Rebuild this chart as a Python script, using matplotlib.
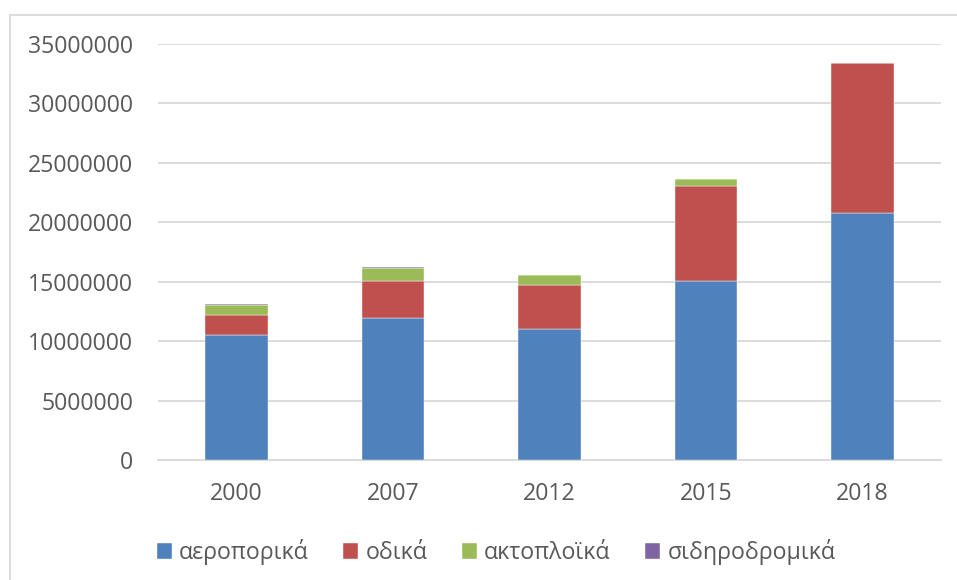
import matplotlib
matplotlib.use("Agg")
import matplotlib.pyplot as plt
from matplotlib.lines import Line2D
import numpy as np

plt.rcParams['font.family'] = ['Open Sans', 'DejaVu Sans']

years = ['2000', '2007', '2012', '2015', '2018']
aeroporika = [10500000, 11980000, 11050000, 15100000, 20750000]
odika = [1700000, 3060000, 3710000, 7950000, 12620000]
aktoploika = [850000, 1090000, 840000, 620000, 0]
sidirodromika = [90000, 120000, 0, 0, 0]

series = [
    ('αεροπορικά', aeroporika, '#4F81BD'),
    ('οδικά', odika, '#C0504D'),
    ('ακτοπλοϊκά', aktoploika, '#9BBB59'),
    ('σιδηροδρομικά', sidirodromika, '#8064A2'),
]

fig = plt.figure(figsize=(9.57, 5.80), dpi=100)
ax = fig.add_axes([158 / 957, 1 - 460 / 580, 783 / 957, 416 / 580])

x = np.arange(len(years))
bottom = np.zeros(len(years))
for name, vals, col in series:
    ax.bar(x, vals, width=0.4, bottom=bottom, color=col, label=name,
           edgecolor='white', linewidth=0.3, zorder=3)
    bottom += np.array(vals)

ax.set_xlim(-0.5, len(years) - 0.5)
ax.set_ylim(0, 35000000)
ax.set_yticks(range(0, 35000001, 5000000))
ax.set_yticklabels([str(v) for v in range(0, 35000001, 5000000)])
ax.set_xticks(x)
ax.set_xticklabels(years)
ax.yaxis.grid(True, color='#d9d9d9', linewidth=1.3, zorder=0)
for s in ['top', 'right', 'left']:
    ax.spines[s].set_visible(False)
ax.spines['bottom'].set_color('#d9d9d9')
ax.spines['bottom'].set_linewidth(1.3)
ax.tick_params(axis='both', length=0, labelsize=16.7, labelcolor='#595959')
ax.tick_params(axis='y', pad=18)
ax.tick_params(axis='x', pad=16)

# chart border
fig.add_artist(Line2D([10 / 957, 10 / 957], [0, 1 - 15 / 580], color='#d9d9d9',
                      linewidth=1.3, transform=fig.transFigure))
fig.add_artist(Line2D([10 / 957, 1], [1 - 15 / 580, 1 - 15 / 580], color='#d9d9d9',
                      linewidth=1.3, transform=fig.transFigure))

fig.legend(loc='center', bbox_to_anchor=(496 / 957, 1 - 552 / 580), ncol=4,
           frameon=False, fontsize=16.7, handlelength=0.65, handleheight=0.65,
           handletextpad=0.3, columnspacing=1.5, labelcolor='#595959')

fig.savefig('out.png', dpi=100)
